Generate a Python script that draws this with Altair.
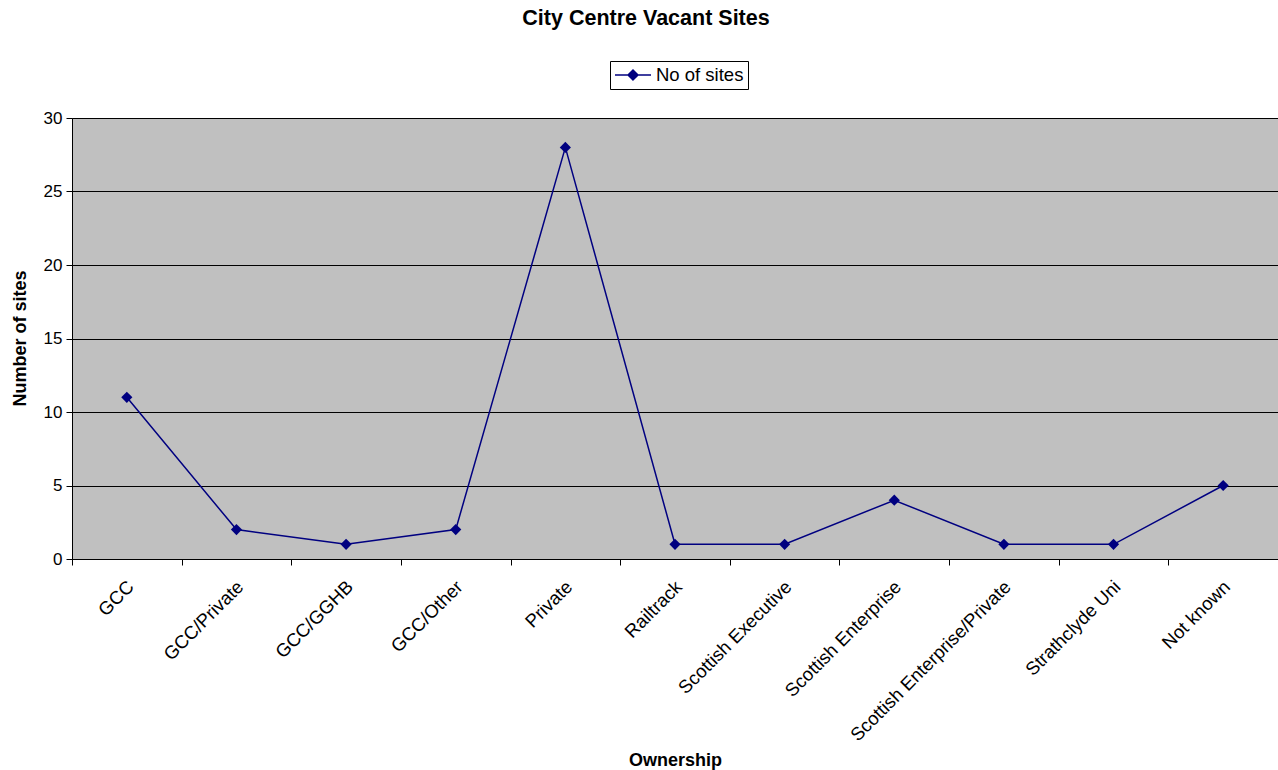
import altair as alt
import pandas as pd

categories = ["GCC", "GCC/Private", "GCC/GGHB", "GCC/Other", "Private", "Railtrack",
              "Scottish Executive", "Scottish Enterprise", "Scottish Enterprise/Private",
              "Strathclyde Uni", "Not known"]
values = [11, 2, 1, 2, 28, 1, 1, 4, 1, 1, 5]
series_name = "No of sites"

df = pd.DataFrame({"Ownership": categories, "Sites": values, "Series": [series_name] * len(values)})

FONT = "Liberation Sans"
NAVY = "#000080"

x = alt.X("Ownership:N", sort=categories,
          scale=alt.Scale(type="band", paddingInner=0, paddingOuter=0),
          axis=alt.Axis(title="Ownership", labelAngle=-45, tickBand="extent",
                        labelFontSize=18.5, labelFont=FONT, labelColor="black",
                        titleFont=FONT, titleFontSize=18, titleFontWeight="bold",
                        titleColor="black", titleY=201, titleBaseline="middle",
                        domainColor="black", tickColor="black", tickSize=6,
                        labelPadding=12, labelOffset=-3, grid=False, labelAlign="right",
                        labelBaseline="top", labelLimit=400))
y = alt.Y("Sites:Q", scale=alt.Scale(domain=[0, 30], nice=False),
          axis=alt.Axis(title="Number of sites", values=[0, 5, 10, 15, 20, 25, 30],
                        labelFontSize=17, labelFont=FONT, labelColor="black",
                        titleFont=FONT, titleFontSize=18, titleFontWeight="bold",
                        titleColor="black", titleX=-52, titleY=220, titleBaseline="middle",
                        domainColor="black", tickColor="black", tickSize=6,
                        labelPadding=4, gridColor="black", gridWidth=1, gridOpacity=1))

color = alt.Color("Series:N", scale=alt.Scale(range=[NAVY]),
                  legend=alt.Legend(title=None, orient="none", legendX=538, legendY=-57,
                                    symbolType="M-1,0L0.6,0M1.4,0L3,0M1,-0.55L1.55,0L1,0.55L0.45,0Z",
                                    symbolSize=324, symbolStrokeWidth=1.5,
                                    symbolFillColor=NAVY, symbolStrokeColor=NAVY,
                                    labelFont=FONT, labelFontSize=18.5, labelColor="black",
                                    strokeColor="black", fillColor="white",
                                    padding=4, labelOffset=22))

line = alt.Chart(df).mark_line(strokeWidth=1.5).encode(x=x, y=y, color=color)
pts = alt.Chart(df).mark_point(shape="diamond", filled=True, size=125, opacity=1).encode(
    x=x, y=y, color=alt.Color("Series:N", scale=alt.Scale(range=[NAVY]), legend=None))

chart = alt.layer(line, pts).properties(
    width=1206, height=441,
    autosize=alt.AutoSizeParams(type="none"),
    padding={"left": 72, "top": 118, "right": 0, "bottom": 211},
    background="white",
    title=alt.TitleParams("City Centre Vacant Sites", font=FONT, fontSize=21.5,
                          fontWeight="bold", color="black", offset=9, dx=-29,
                          anchor="middle", baseline="bottom"),
).configure_view(fill="#C0C0C0", stroke="#808080", strokeWidth=1)

chart.save("out.html", embed_options={"renderer": "svg", "actions": False})
